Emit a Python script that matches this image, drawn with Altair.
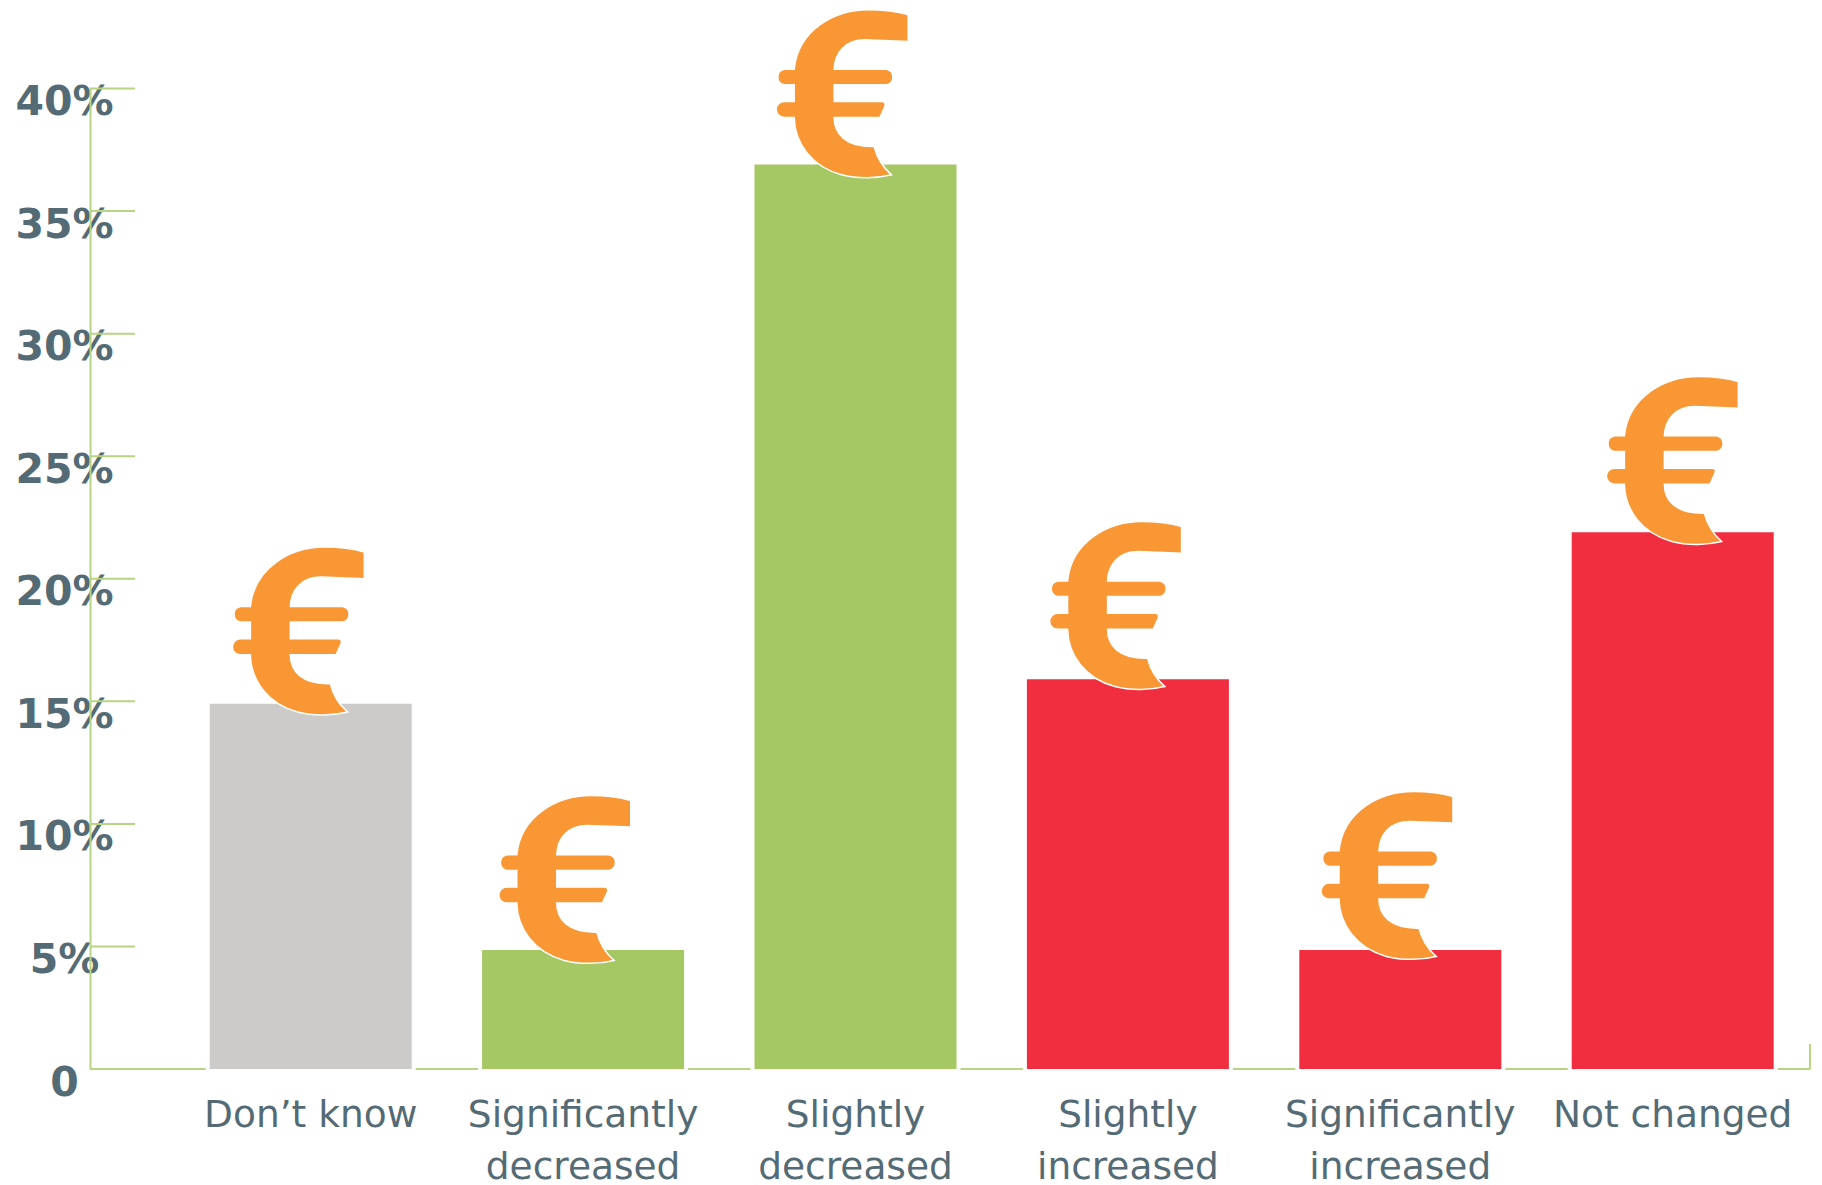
import altair as alt
import pandas as pd

categories = ["Don’t know", "Significantly\ndecreased", "Slightly\ndecreased",
              "Slightly\nincreased", "Significantly\nincreased", "Not changed"]
values = [14.9, 4.85, 36.9, 15.9, 4.85, 21.9]
groups = ["unknown", "decrease", "decrease", "increase", "increase", "increase"]
tick_values = [5, 10, 15, 20, 25, 30, 35, 40]
axis_values = [0, 5, 10, 15, 20, 25, 30, 35, 40]

PLOT_W, PLOT_H = 1720, 980.5
LINE = "#B7D483"
TEXT = "#546B75"
ORANGE = "#F99734"
BAR_W = 202
EURO_NUDGE = [(-12, 0), (-18, 2), (-13, 2), (-12, -1), (-13, -2), (0, 1)]
EURO_SHAPE = (
    "M197,-455 L197,-375 L67,-380 C7,-380 -23,-340 -25,-292 L132,-292 A24,24 0 0 1 132,-245 "
    "L-25,-245 L-25,-195 L117,-195 Q132,-195 127,-180 L112,-147 L-25,-147 "
    "C-25,-100 7,-58 95,-60 Q107,-10 147,25 C107,35 47,38 -3,25 C-93,0 -143,-70 -145,-147 "
    "L-175,-147 A24,24 0 0 1 -175,-195 L-145,-195 L-145,-245 L-175,-245 A24,24 0 0 1 -175,-292 "
    "L-145,-292 C-133,-410 -23,-470 77,-470 Q147,-470 197,-455 Z"
)

df = pd.DataFrame({"category": categories, "value": values, "group": groups})

x_enc = alt.X("category:N", sort=categories, title=None,
              scale=alt.Scale(domain=categories, range=[84.5, 1718.9],
                              paddingInner=0.257, paddingOuter=0.1285),
              axis=alt.Axis(labelExpr="split(datum.label, '\\n')", labelAngle=0, ticks=False,
                            domain=False, labelColor=TEXT, labelFont="DejaVu Sans",
                            labelFontSize=37.5, labelLineHeight=52, labelPadding=27,
                            labelLimit=400, labelBaseline="top", labelAlign="center"))
y_enc = alt.Y("value:Q", title=None, scale=alt.Scale(domain=[0, 40]),
              axis=alt.Axis(values=axis_values, labelExpr="datum.value == 0 ? '0' : datum.value + '%'",
                            ticks=False, grid=False, domainColor=LINE, domainWidth=2,
                            labelColor=TEXT, labelFont="DejaVu Sans", labelFontWeight="bold",
                            labelFontSize=41, labelAlign="center", labelPadding=26, labelOffset=14,
                            labelOverlap=False, labelBound=False, labelFlush=False))

ticks_df = pd.DataFrame({"value": tick_values})
baseline = alt.Chart(ticks_df.head(1)).mark_rule(color=LINE, strokeWidth=2).encode(
    x=alt.value(0), x2=alt.value(PLOT_W), y=alt.value(PLOT_H))
halo = alt.Chart(df).mark_bar(size=BAR_W, color="white", stroke="white", strokeWidth=8).encode(x=x_enc, y=y_enc)
bars = alt.Chart(df).mark_bar(size=BAR_W).encode(
    x=x_enc, y=y_enc,
    color=alt.Color("group:N", legend=None,
                    scale=alt.Scale(domain=["unknown", "decrease", "increase"],
                                    range=["#CCCBC9", "#A6C864", "#F12E3F"])))

ticks = alt.Chart(ticks_df).mark_rule(color=LINE, strokeWidth=2).encode(
    x=alt.value(0), x2=alt.value(45), y=y_enc)
end_tick = alt.Chart(ticks_df.head(1)).mark_rule(color=LINE, strokeWidth=2).encode(
    x=alt.value(PLOT_W), y=alt.value(PLOT_H - 25), y2=alt.value(PLOT_H))

euros = []
for i, (dx, dy) in enumerate(EURO_NUDGE):
    euros.append(
        alt.Chart(df.iloc[[i]]).mark_point(
            shape=EURO_SHAPE, size=0.4444, filled=True, fill=ORANGE, fillOpacity=1,
            stroke="white", strokeWidth=1.5, strokeOpacity=1, xOffset=dx, yOffset=dy
        ).encode(x=x_enc, y=y_enc)
    )

chart = alt.layer(baseline, halo, bars, ticks, end_tick, *euros).properties(
    width=PLOT_W, height=PLOT_H, background="white",
    autosize=alt.AutoSizeParams(type="none"),
    padding={"left": 82, "top": 80.5, "right": 4, "bottom": 116},
).configure_view(strokeWidth=0)

chart.save("out.html", embed_options={"renderer": "svg", "actions": False})
